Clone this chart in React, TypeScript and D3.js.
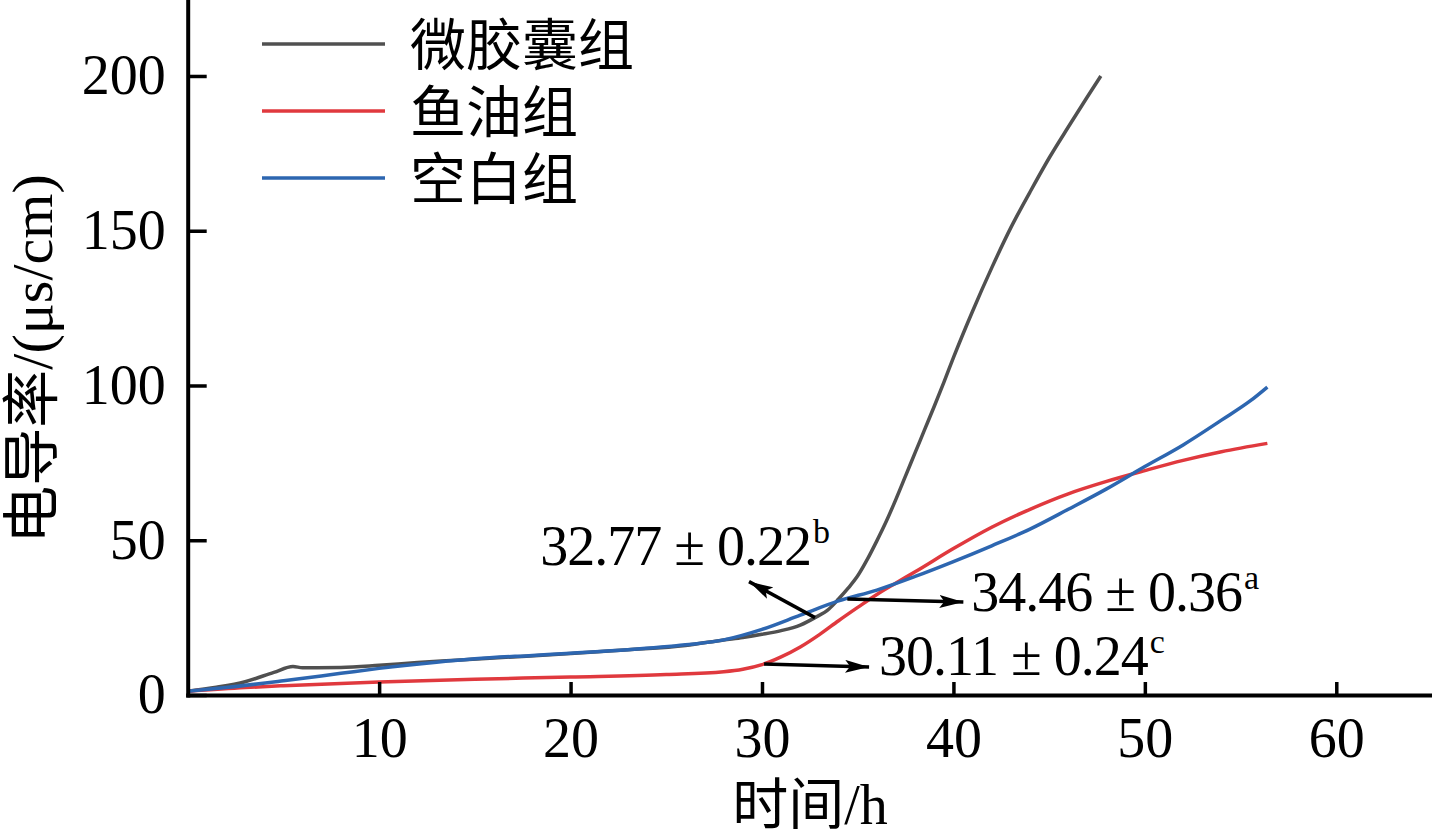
import React, { useEffect, useRef } from 'react';
import * as d3 from 'd3';

// 微胶囊组
const timeGray = [0, 1.5, 3, 4.5, 5.5, 6, 8, 10, 12, 14, 17, 20, 23, 26, 28, 29, 30, 31, 32, 32.77, 33.5, 34, 34.5, 35, 35.5, 36, 36.5, 37, 37.5, 38, 38.5, 39, 39.5, 40, 41, 42, 43, 44, 45, 46, 47, 47.7];
const condGray = [1.2, 2.5, 4.3, 7.3, 9.2, 8.8, 8.9, 9.6, 10.5, 11.2, 12.3, 13.4, 14.6, 16.0, 17.8, 18.6, 19.6, 20.8, 22.6, 25.0, 27.8, 31.0, 34.5, 38.5, 43.8, 49.8, 56.2, 63.3, 70.8, 78.3, 85.8, 93.3, 101, 109, 124, 138, 151, 162.5, 173.5, 183.5, 193.3, 200];

// 鱼油组
const timeRed = [0, 3, 5, 10, 15, 20, 25, 28, 29, 30, 31, 32, 33, 34, 35, 36, 37, 38, 40, 42, 44, 46, 48, 50, 52, 54, 56.4];
const condRed = [1.2, 2.4, 3.0, 4.2, 5.1, 5.8, 6.6, 7.5, 8.3, 9.8, 12.3, 15.5, 19.5, 24, 28.3, 32.5, 36.2, 39.8, 47.3, 54.2, 60, 65, 69, 72.5, 75.8, 78.6, 81.3];

// 空白组
const timeBlue = [0, 2, 5, 8, 10, 13, 15, 18, 20, 23, 26, 28, 30, 32, 34, 36, 38, 40, 42, 44, 46, 48, 50, 52, 54, 55.5, 56.4];
const condBlue = [1.2, 2.4, 4.6, 7.0, 8.6, 10.6, 11.7, 12.8, 13.5, 14.6, 16.2, 17.8, 21.2, 25.8, 30.4, 33.9, 38.3, 43.1, 48.2, 53.6, 60, 66.6, 73.8, 80.8, 88.8, 95, 99.5];

const seriesNames = ['微胶囊组', '鱼油组', '空白组'];
const seriesColors = ['#505050', '#e0393e', '#2d66b0'];

const xTicks = [10, 20, 30, 40, 50, 60];
const yTicks = [0, 50, 100, 150, 200];

// annotations: time point, value on curve, label
const annoTime = [32.77, 34.46, 30.11];
const annoValue = [25, 31, 10];
const annoMain = ['32.77 ± 0.22', '34.46 ± 0.36', '30.11 ± 0.24'];
const annoSup = ['b', 'a', 'c'];

export default function App() {
  const ref = useRef<SVGSVGElement>(null);

  useEffect(() => {
    if (!ref.current) return;
    const svg = d3.select(ref.current);
    svg.selectAll('*').remove();

    const width = 1432;
    const serif = "'Liberation Serif', 'Times New Roman', serif";
    const mixed = "'Liberation Serif', 'Noto Sans CJK SC', serif";

    const x = d3.scaleLinear().domain([0, 65]).range([187.7, width]);
    const y = d3.scaleLinear().domain([0, 225]).range([695, -1.4]);

    svg
      .append('defs')
      .append('marker')
      .attr('id', 'arrowHead')
      .attr('viewBox', '0 0 24 13')
      .attr('refX', 24)
      .attr('refY', 6.5)
      .attr('markerWidth', 24)
      .attr('markerHeight', 13)
      .attr('markerUnits', 'userSpaceOnUse')
      .attr('orient', 'auto')
      .append('path')
      .attr('d', 'M0,0 L24,6.5 L0,13 L5,6.5 Z')
      .attr('fill', '#000');

    // series lines
    const series = [
      { t: timeGray, v: condGray },
      { t: timeRed, v: condRed },
      { t: timeBlue, v: condBlue },
    ];
    const line = d3
      .line<[number, number]>()
      .x(d => x(d[0]))
      .y(d => y(d[1]))
      .curve(d3.curveMonotoneX);

    series.forEach((s, i) => {
      const pts: [number, number][] = s.t.map((t, j) => [t, s.v[j]]);
      svg
        .append('path')
        .datum(pts)
        .attr('d', line)
        .attr('fill', 'none')
        .attr('stroke', seriesColors[i])
        .attr('stroke-width', 3.5)
        .attr('stroke-linejoin', 'round');
    });

    // axes
    const xAxis = d3
      .axisBottom(x)
      .tickValues(xTicks)
      .tickSizeInner(-13)
      .tickSizeOuter(0)
      .tickPadding(22)
      .tickFormat(d3.format('d'));
    const gx = svg.append('g').attr('transform', `translate(0,${y(0)})`).call(xAxis);

    const yAxis = d3
      .axisLeft(y)
      .tickValues(yTicks)
      .tickSizeInner(-19)
      .tickSizeOuter(0)
      .tickPadding(22)
      .tickFormat(d3.format('d'));
    const gy = svg.append('g').attr('transform', `translate(${x(0)},0)`).call(yAxis);

    [gx, gy].forEach(g => {
      g.attr('font-family', serif).attr('font-size', 56);
      g.select('.domain').attr('stroke', '#000').attr('stroke-width', 4).attr('stroke-linecap', 'square');
      g.selectAll('.tick line').attr('stroke', '#000').attr('stroke-width', 3.5);
      g.selectAll('.tick text').attr('fill', '#000');
    });

    // axis titles
    svg
      .append('text')
      .attr('x', 810)
      .attr('y', 824)
      .attr('text-anchor', 'middle')
      .attr('font-family', mixed)
      .attr('font-size', 56)
      .text('时间/h');

    svg
      .append('text')
      .attr('transform', 'translate(32,359) rotate(-90)')
      .attr('text-anchor', 'middle')
      .attr('dominant-baseline', 'central')
      .attr('font-family', mixed)
      .attr('font-size', 58)
      .text('电导率/(μs/cm)');

    // legend
    const legend = svg.append('g').attr('transform', 'translate(262,44)');
    seriesNames.forEach((name, i) => {
      const row = legend.append('g').attr('transform', `translate(0,${i * 67})`);
      row
        .append('line')
        .attr('x1', 0)
        .attr('x2', 123)
        .attr('y1', 0)
        .attr('y2', 0)
        .attr('stroke', seriesColors[i])
        .attr('stroke-width', 3.5);
      row
        .append('text')
        .attr('x', 148)
        .attr('y', 2)
        .attr('dominant-baseline', 'central')
        .attr('font-family', mixed)
        .attr('font-size', 56)
        .text(name);
    });

    // annotations
    const arrowOffset = [[-66, -36], [116, 3], [105, 3]];
    const textOffset = [[15, -53], [124, 12], [115, 11]];
    const textAnchor = ['end', 'start', 'start'];

    annoTime.forEach((t, i) => {
      const px = x(t);
      const py = y(annoValue[i]);
      svg
        .append('line')
        .attr('x1', px)
        .attr('y1', py)
        .attr('x2', px + arrowOffset[i][0])
        .attr('y2', py + arrowOffset[i][1])
        .attr('stroke', '#000')
        .attr('stroke-width', 3.5)
        .attr('marker-end', 'url(#arrowHead)');

      const txt = svg
        .append('text')
        .attr('x', px + textOffset[i][0])
        .attr('y', py + textOffset[i][1])
        .attr('text-anchor', textAnchor[i])
        .attr('font-family', serif)
        .attr('font-size', 56);
      txt.append('tspan').attr('letter-spacing', -1).text(annoMain[i]);
      txt.append('tspan').attr('font-size', 34).attr('dy', -22).attr('dx', 2).text(annoSup[i]);
    });
  }, []);

  return (
    <svg
      ref={ref}
      width={1432}
      height={840}
      style={{ position: 'absolute', left: 0, top: 0, background: '#fff' }}
    />
  );
}
